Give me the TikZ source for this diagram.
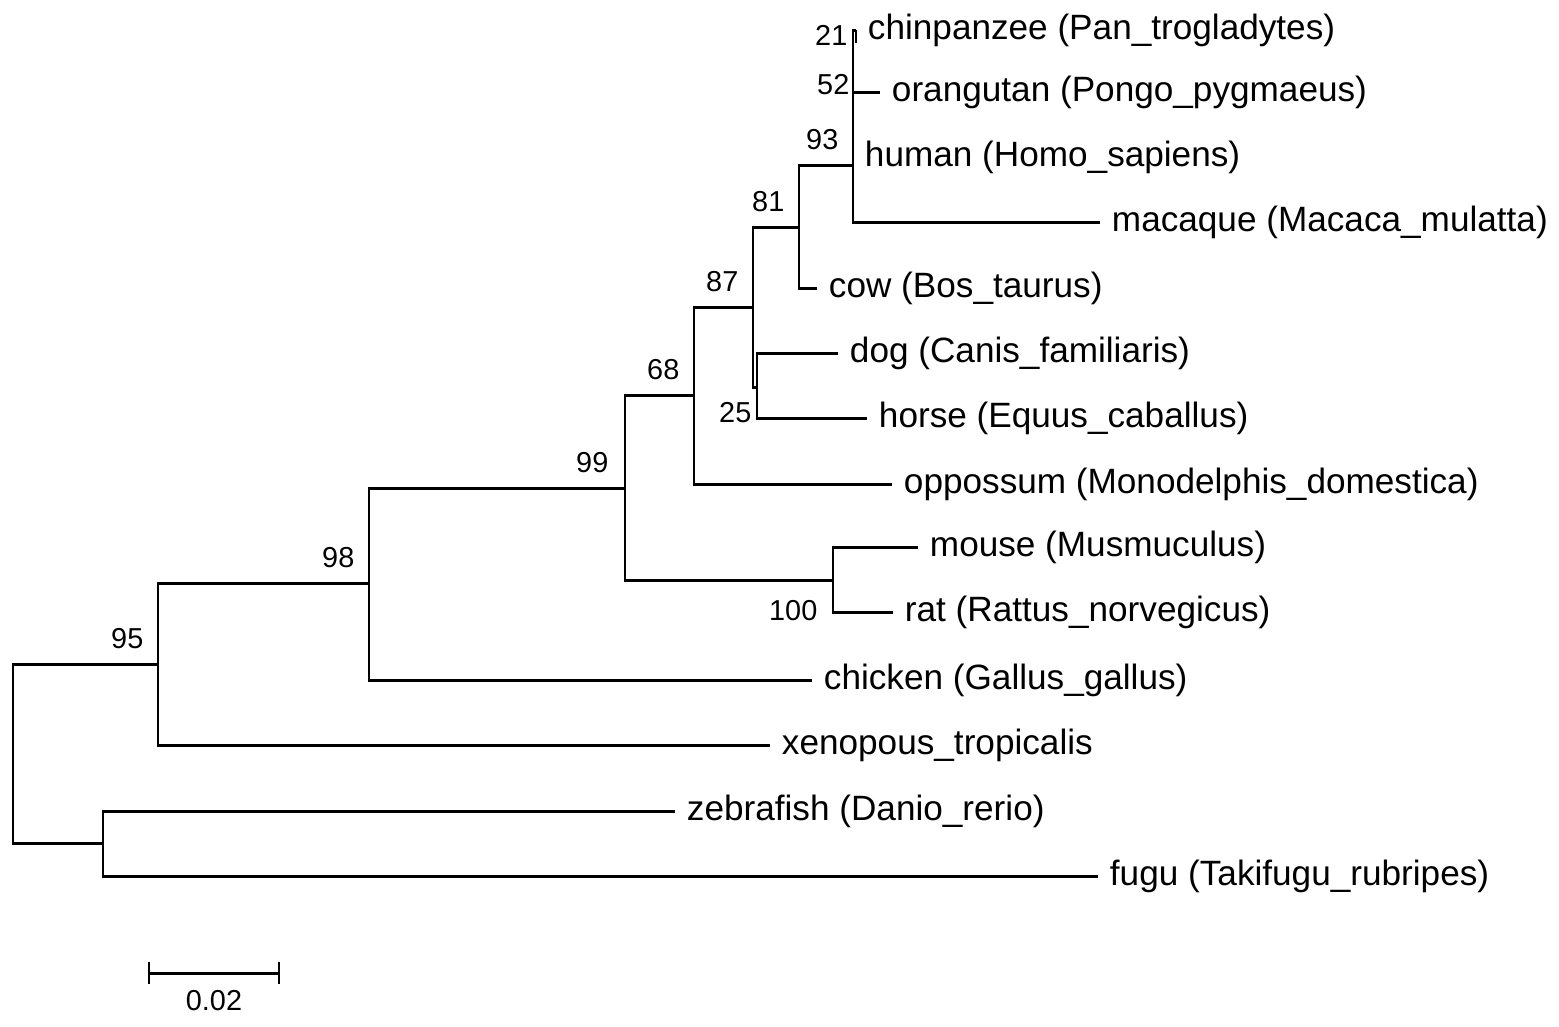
\documentclass[tikz,border=0pt]{standalone}
\usepackage{fontspec}
\setmainfont{Liberation Sans}
\usepackage{tikz}

\tikzset{
  taxon/.style={anchor=west, inner xsep=3.2pt, inner ysep=0pt, font=\fontsize{10}{12}\selectfont},
  boot/.style={inner sep=0pt, font=\fontsize{8.2}{10}\selectfont},
  branch/.style={line width=0.85pt}
}

\begin{document}
\begin{tikzpicture}[x=0.01cm, y=-0.01cm]
\useasboundingbox (0,0) rectangle (1559,1026);

\coordinate (root) at (13,754);
\coordinate (n95) at (158,664);
\coordinate (fish) at (103,843);
\coordinate (n98) at (369,583);
\coordinate (n99) at (625,488);
\coordinate (n100) at (833,580);
\coordinate (n68) at (694,395);
\coordinate (n87) at (753,307);
\coordinate (n25) at (757,387);
\coordinate (n81) at (799,227);
\coordinate (n93) at (853,165);
\coordinate (n21) at (856,43);

\node[taxon] (chimp) at (856,30) {chinpanzee (Pan\_trogladytes)};
\node[taxon] (orang) at (880,92) {orangutan (Pongo\_pygmaeus)};
\node[taxon] (human) at (853,157) {human (Homo\_sapiens)};
\node[taxon] (macaque) at (1100,222) {macaque (Macaca\_mulatta)};
\node[taxon] (cow) at (817,288) {cow (Bos\_taurus)};
\node[taxon] (dog) at (838,353) {dog (Canis\_familiaris)};
\node[taxon] (horse) at (867,418) {horse (Equus\_caballus)};
\node[taxon] (opossum) at (892,484) {oppossum (Monodelphis\_domestica)};
\node[taxon] (mouse) at (918,547) {mouse (Musmuculus)};
\node[taxon] (rat) at (893,612) {rat (Rattus\_norvegicus)};
\node[taxon] (chicken) at (812,680) {chicken (Gallus\_gallus)};
\node[taxon] (xenopus) at (770,745) {xenopous\_tropicalis};
\node[taxon] (zebrafish) at (675,811) {zebrafish (Danio\_rerio)};
\node[taxon] (fugu) at (1098,876) {fugu (Takifugu\_rubripes)};

\draw[branch] (root) |- (n95);
\draw[branch] (root) |- (fish);
\draw[branch] (n95) |- (n98);
\draw[branch] (n95) |- (xenopus.west);
\draw[branch] (n98) |- (n99);
\draw[branch] (n98) |- (chicken.west);
\draw[branch] (n99) |- (n68);
\draw[branch] (n99) |- (n100);
\draw[branch] (n100) |- (mouse.west);
\draw[branch] (n100) |- (rat.west);
\draw[branch] (n68) |- (n87);
\draw[branch] (n68) |- (opossum.west);
\draw[branch] (n87) |- (n81);
\draw[branch] (n87) |- (n25);
\draw[branch] (n25) |- (dog.west);
\draw[branch] (n25) |- (horse.west);
\draw[branch] (n81) |- (n93);
\draw[branch] (n81) |- (cow.west);
\draw[branch] (n93) |- (chimp.west);
\draw[branch] (n93) |- (orang.west);
\draw[branch] (n93) |- (macaque.west);
\draw[branch] (chimp.west) -- (n21);
\draw[branch] (fish) |- (zebrafish.west);
\draw[branch] (fish) |- (fugu.west);

\node[boot, anchor=south east] (b95) at (144,649) {95};
\node[boot, anchor=south east] (b98) at (355,568) {98};
\node[boot, anchor=south east] (b99) at (609,473) {99};
\node[boot, anchor=south east] (b68) at (680,380) {68};
\node[boot, anchor=south east] (b87) at (739,292) {87};
\node[boot, anchor=south east] (b81) at (785,212) {81};
\node[boot, anchor=south east] (b93) at (839,150) {93};
\node[boot, anchor=east] (b21) at (848,35) {21};
\node[boot, anchor=east] (b52) at (850,85) {52};
\node[boot, anchor=east] (b25) at (752,413) {25};
\node[boot, anchor=east] (b100) at (818,611) {100};

\coordinate (bar0) at (149,973);
\coordinate (bar1) at (279,973);
\draw[branch] (bar0) -- (bar1);
\draw[branch] (149,962) -- (149,984);
\draw[branch] (279,962) -- (279,984);
\node[boot] (barlabel) at (214,1001) {0.02};
\end{tikzpicture}
\end{document}
